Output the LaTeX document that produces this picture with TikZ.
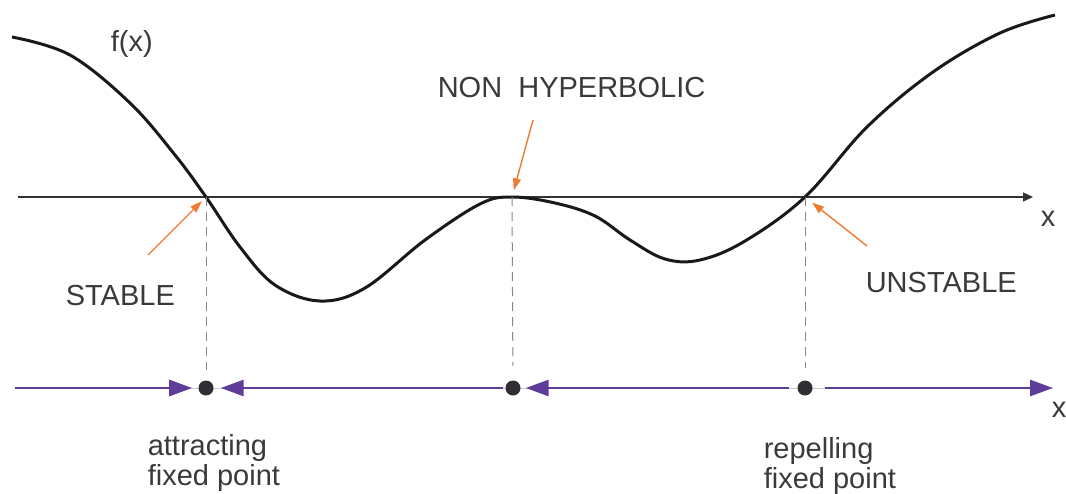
\documentclass[tikz,border=0pt]{standalone}
\usepackage{fontspec}
\setmainfont{Liberation Sans}
\usetikzlibrary{arrows.meta}
\definecolor{txtgray}{HTML}{3A3A3D}
\definecolor{guidegray}{HTML}{8E8283}
\definecolor{noteorange}{HTML}{F07A32}
\definecolor{flowpurple}{HTML}{5E3C99}
\definecolor{dotgray}{HTML}{2E2E33}
\begin{document}
\begin{tikzpicture}[x=0.5pt, y=-0.5pt, thick,
		every node/.style={inner sep=0pt, text=txtgray, font=\fontsize{14.5}{15}\selectfont},
		curve/.style={line width=1.5pt, black!90},
		axisline/.style={line width=0.7pt, black!80, -{Triangle[length=5pt, width=4.5pt]}},
		guide/.style={line width=0.5pt, draw=guidegray, dash pattern=on 4.5pt off 3pt},
		note/.style={line width=0.7pt, draw=noteorange, -{Triangle[length=6pt, width=4pt]}},
		flow/.style={line width=1.4pt, draw=flowpurple, -{Triangle[length=11.5pt, width=8pt]}},
		flowbase/.style={line width=0.5pt, draw=black!20},
		fixpt/.style={circle, fill=dotgray, minimum size=7.5pt}]
	\useasboundingbox (0,0) rectangle (1066,493);
	
	% 坐标轴
	\coordinate (ax0) at (18,197);
	\coordinate (ax1) at (1033,197);
	\draw[axisline] (ax0) -- (ax1);
	\node[anchor=base west] (xlab) at (1040,226) {x};
	
	% 函数曲线
	\draw[curve] plot[smooth, tension=0.6] coordinates {
		(12,37) (70,55) (130,103) (175,155) (206,197) (240,247) (275,285)
		(320,301) (365,288) (425,240) (480,204) (512,197) (555,203) (595,216)
		(630,240) (665,259) (700,260) (745,241) (805,197) (867,127) (933,72)
		(1000,33) (1055,15)};
	\node[anchor=base west] (flab) at (110,51) {f(x)};
	
	% 零点
	\coordinate (s) at (206,197);
	\coordinate (n) at (512,197);
	\coordinate (u) at (805,197);
	
	% 标注
	\node[anchor=base west] (stable) at (65,305) {STABLE};
	\node[anchor=base west] (nonhyp) at (437,97) {NON\ \ HYPERBOLIC};
	\node[anchor=base west] (unstable) at (865,292) {UNSTABLE};
	\coordinate (sTail) at (148,255);
	\coordinate (nTail) at (533,120);
	\coordinate (uTail) at (867,246);
	\draw[note, shorten >=2.9pt] (sTail) -- (s);
	\draw[note, shorten >=3.5pt] (nTail) -- (n);
	\draw[note, shorten >=4.5pt] (uTail) -- (u);
	
	% 相线
	\coordinate (l0) at (15,388);
	\coordinate (r1) at (1053,388);
	\draw[flowbase] (l0) -- (r1);
	\node[fixpt] (p1) at (206,388) {};
	\node[fixpt] (p2) at (513,388) {};
	\node[fixpt] (p3) at (805,388) {};
	\node[anchor=base west] (xlab2) at (1051,417) {x};
	
	\draw[guide, shorten >=5pt] (s) -- (p1);
	\draw[guide, shorten >=7pt] (n) -- (p2);
	\draw[guide, shorten >=6pt] (u) -- (p3);
	
	\draw[flow, shorten >=2.75pt] (l0) -- (p1);
	\draw[flow, shorten <=1pt, shorten >=3.2pt] (p2) -- (p1);
	\draw[flow, shorten <=3.7pt, shorten >=2.2pt] (p3) -- (p2);
	\draw[flow, shorten <=6pt] (p3) -- (r1);
	
	\node[anchor=base west, align=left] (attr) at (147,485) {attracting\\fixed point};
	\node[anchor=base west, align=left] (repel) at (763,488) {repelling\\fixed point};
\end{tikzpicture}
\end{document}
